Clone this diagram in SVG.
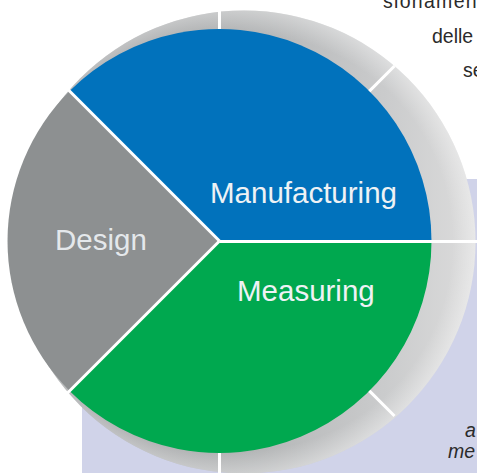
<svg xmlns="http://www.w3.org/2000/svg" width="477" height="473" viewBox="0 0 477 473">
  <defs>
    <linearGradient id="ringGrad" x1="0" y1="0" x2="1" y2="0">
      <stop offset="0" stop-color="#8f9193"/>
      <stop offset="0.45" stop-color="#aeb0b1"/>
      <stop offset="0.8" stop-color="#cacbcc"/>
      <stop offset="1" stop-color="#dcdcdc"/>
    </linearGradient>
    <radialGradient id="rimGrad" cx="244" cy="242" r="231.5" gradientUnits="userSpaceOnUse">
      <stop offset="0.9" stop-color="#ffffff" stop-opacity="0"/>
      <stop offset="1" stop-color="#ffffff" stop-opacity="0.35"/>
    </radialGradient>
    <style>
      .para { font-family: "Liberation Sans", Arial, sans-serif; font-size: 19.5px; fill: #2b2b2b; }
      .label { font-family: "Liberation Sans", Arial, sans-serif; font-size: 29.5px; fill: #eef2f5; }
      .sep { stroke: #ffffff; stroke-width: 3; fill: none; }
    </style>
  </defs>

  <rect x="0" y="0" width="477" height="473" fill="#ffffff"/>
  <rect id="panel" x="82" y="179" width="395" height="294" fill="#d0d3e9"/>

  <g id="paragraph">
    <text class="para" x="383" y="8" letter-spacing="1.3">sionamen</text>
    <text class="para" x="432" y="43">delle</text>
    <text class="para" x="463" y="77">se</text>
    <text class="para" x="465" y="437" font-style="italic">a</text>
    <text class="para" x="448" y="458" font-style="italic">me</text>
  </g>

  <g id="ring">
    <circle cx="244" cy="242" r="231.5" fill="url(#ringGrad)"/>
    <circle cx="244" cy="242" r="231.5" fill="url(#rimGrad)"/>
  </g>

  <g id="design">
    <path d="M219.5 241 L69.6 91.1 A212 212 0 0 0 69.6 390.9 Z" fill="#8d9091"/>
    <text class="label" x="55" y="250" fill-opacity="0.92">Design</text>
  </g>

  <g id="manufacturing">
    <path d="M219.5 241 L69.6 91.1 A212 212 0 0 1 431.5 241 Z" fill="#0172bc"/>
    <text class="label" x="210" y="203">Manufacturing</text>
  </g>

  <g id="measuring">
    <path d="M219.5 241 L431.5 241 A212 212 0 0 1 69.6 390.9 Z" fill="#00a84f"/>
    <text class="label" x="237" y="301">Measuring</text>
  </g>

  <g id="connectors">
    <line class="sep" x1="219.5" y1="241" x2="62" y2="83.5"/>
    <line class="sep" x1="219.5" y1="241" x2="62" y2="398.5"/>
    <line class="sep" x1="219.5" y1="241.5" x2="477" y2="241.5"/>
    <line class="sep" x1="219.5" y1="29" x2="219.5" y2="9"/>
    <line class="sep" x1="219.5" y1="453" x2="219.5" y2="473"/>
    <line class="sep" x1="369.4" y1="91.1" x2="394.5" y2="66"/>
    <line class="sep" x1="369.4" y1="390.9" x2="394.5" y2="416"/>
  </g>
</svg>
